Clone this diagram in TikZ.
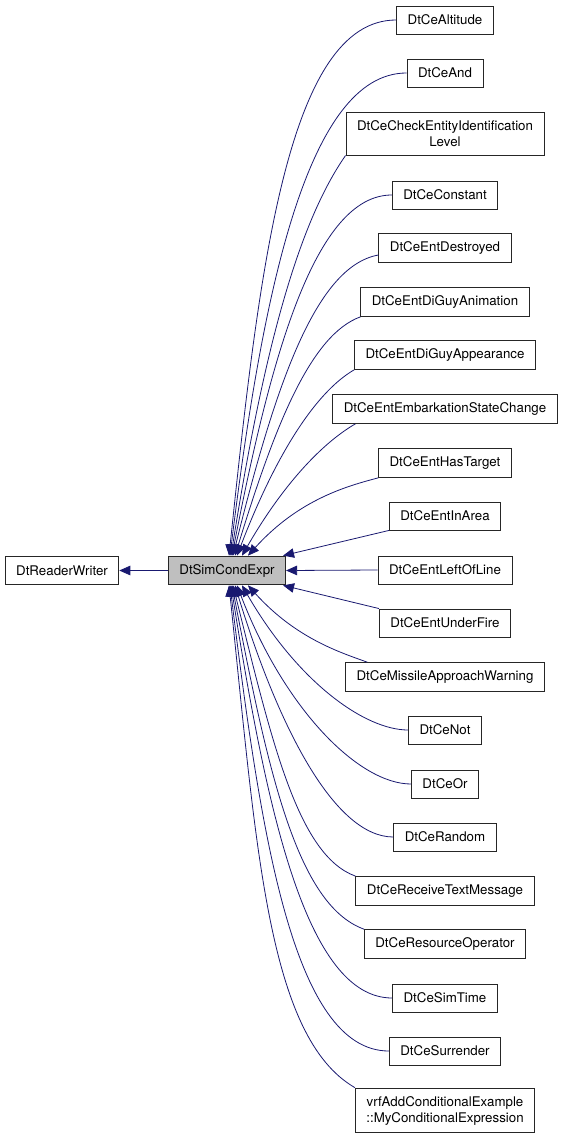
\documentclass[tikz,border=0pt]{standalone}
\usepackage{fontspec}
\setmainfont{TeX Gyre Heros}
\usetikzlibrary{arrows.meta}
\definecolor{edgeblue}{RGB}{25,25,112}
\definecolor{basefill}{RGB}{191,191,191}
\tikzset{
  cls/.style={draw=black!85, line width=0.9pt, fill=white, align=center,
    inner xsep=11pt, inner ysep=8pt, minimum height=28pt,
    font=\fontsize{13.3}{16}\selectfont},
  inherit/.style={draw=edgeblue, line width=0.8pt, -{Triangle[length=11pt,width=9.5pt]}},
  fan/.style={out looseness=0.5, in looseness=1.3}
}
\begin{document}
\begin{tikzpicture}[x=1pt,y=1pt]
  \useasboundingbox (0,0) rectangle (563,-1139);
  % base classes
  \node[cls] (rw) at (62,-570.5) {DtReaderWriter};
  \node[cls, fill=basefill] (expr) at (227,-570.5) {DtSimCondExpr};
  % derived classes
  \node[cls] (alt) at (445,-20) {DtCeAltitude};
  \node[cls] (and) at (445,-73) {DtCeAnd};
  \node[cls] (chk) at (445,-134) {DtCeCheckEntityIdentification\\Level};
  \node[cls] (cst) at (445,-195) {DtCeConstant};
  \node[cls] (des) at (445,-248) {DtCeEntDestroyed};
  \node[cls] (ani) at (445,-302) {DtCeEntDiGuyAnimation};
  \node[cls] (app) at (445,-355) {DtCeEntDiGuyAppearance};
  \node[cls] (emb) at (445,-409) {DtCeEntEmbarkationStateChange};
  \node[cls] (tgt) at (445,-463) {DtCeEntHasTarget};
  \node[cls] (are) at (445,-516) {DtCeEntInArea};
  \node[cls] (lol) at (445,-570) {DtCeEntLeftOfLine};
  \node[cls] (fir) at (445,-623) {DtCeEntUnderFire};
  \node[cls] (mis) at (445,-677) {DtCeMissileApproachWarning};
  \node[cls] (not) at (445,-730) {DtCeNot};
  \node[cls] (or) at (445,-784) {DtCeOr};
  \node[cls] (rnd) at (445,-837) {DtCeRandom};
  \node[cls] (txt) at (445,-891) {DtCeReceiveTextMessage};
  \node[cls] (res) at (445,-944) {DtCeResourceOperator};
  \node[cls] (sim) at (445,-998) {DtCeSimTime};
  \node[cls] (sur) at (445,-1051) {DtCeSurrender};
  \node[cls] (vrf) at (445,-1110.5) {vrfAddConditionalExample\\::MyConditionalExpression};
  % inheritance arrows
  \draw[inherit] (expr.west) -- (rw.east);
  \draw[inherit] (alt.west) to[out=180,in=84,fan] ([xshift=2pt]expr.north);
  \draw[inherit] (and.west) to[out=180,in=83,fan] ([xshift=3pt]expr.north);
  \draw[inherit] (chk.south west) to[out=235,in=81,fan] ([xshift=4pt]expr.north);
  \draw[inherit] (cst.west) to[out=180,in=79,fan] ([xshift=5pt]expr.north);
  \draw[inherit] ([yshift=-7pt]des.west) to[out=190,in=76,fan] ([xshift=6pt]expr.north);
  \draw[inherit] (ani.south west) to[out=200,in=73,fan] ([xshift=8pt]expr.north);
  \draw[inherit] (app.south west) to[out=210,in=69,fan] ([xshift=10pt]expr.north);
  \draw[inherit] ([xshift=23pt]emb.south west) to[out=210,in=60,fan] ([xshift=15pt]expr.north);
  \draw[inherit] (tgt.south west) to[out=195,in=48,fan] ([xshift=21pt]expr.north);
  \draw[inherit] (are.south west) -- ([xshift=-3pt]expr.north east);
  \draw[inherit] (lol.west) -- (expr.east);
  \draw[inherit] (fir.north west) -- ([xshift=-3pt]expr.south east);
  \draw[inherit] ([xshift=22pt]mis.north west) to[out=160,in=-48,fan] ([xshift=21pt]expr.south);
  \draw[inherit] (not.west) to[out=180,in=-60,fan] ([xshift=15pt]expr.south);
  \draw[inherit] (or.west) to[out=180,in=-69,fan] ([xshift=10pt]expr.south);
  \draw[inherit] (rnd.west) to[out=180,in=-73,fan] ([xshift=8pt]expr.south);
  \draw[inherit] (txt.north west) to[out=160,in=-76,fan] ([xshift=6pt]expr.south);
  \draw[inherit] (res.north west) to[out=160,in=-79,fan] ([xshift=5pt]expr.south);
  \draw[inherit] (sim.west) to[out=180,in=-81,fan] ([xshift=4pt]expr.south);
  \draw[inherit] (sur.west) to[out=180,in=-83,fan] ([xshift=3pt]expr.south);
  \draw[inherit] (vrf.north west) to[out=150,in=-84,fan] ([xshift=2pt]expr.south);
\end{tikzpicture}
\end{document}
